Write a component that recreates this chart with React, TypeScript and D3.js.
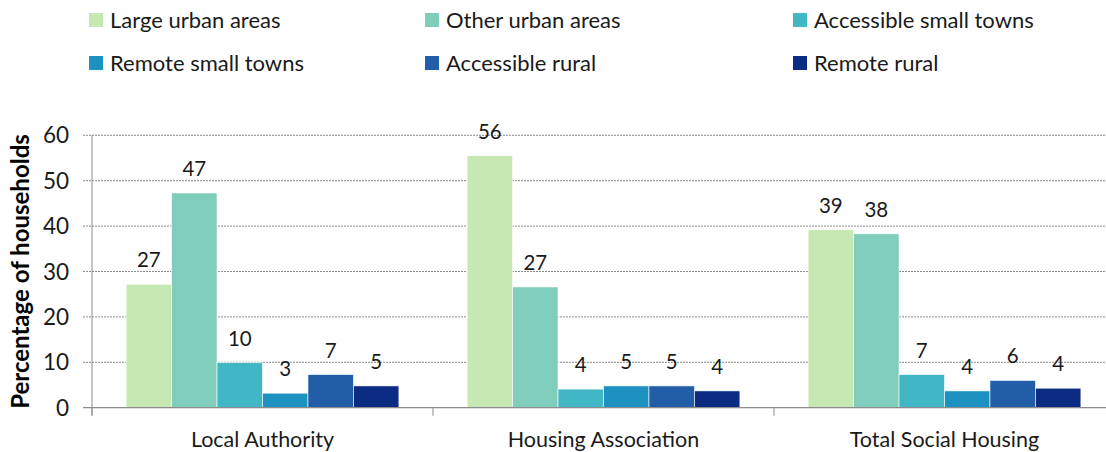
import React from "react";
import * as d3 from "d3";

const categories = ["Local Authority", "Housing Association", "Total Social Housing"];
const seriesNames = [
  "Large urban areas",
  "Other urban areas",
  "Accessible small towns",
  "Remote small towns",
  "Accessible rural",
  "Remote rural",
];
const largeUrban = [27.2, 55.5, 39.2];
const otherUrban = [47.3, 26.6, 38.3];
const accessibleTowns = [9.9, 4.1, 7.3];
const remoteTowns = [3.2, 4.8, 3.7];
const accessibleRural = [7.3, 4.8, 6.0];
const remoteRural = [4.8, 3.7, 4.3];
const seriesValues = [largeUrban, otherUrban, accessibleTowns, remoteTowns, accessibleRural, remoteRural];
const colors = ["#c6e9b4", "#80cdbb", "#41b6c4", "#1d91c0", "#225ea8", "#0c2c84"];
const yTicks = [0, 10, 20, 30, 40, 50, 60];

const W = 1106;
const H = 452;
const FONT = "Lato, 'Open Sans', sans-serif";

export default function App() {
  const left = 92;
  const right = 1115;
  const top = 135.3;
  const bottom = 407.7;

  const x0 = d3.scaleBand<string>().domain(categories).range([left, right]).paddingInner(0).paddingOuter(0);
  const x1 = d3
    .scaleBand<number>()
    .domain(d3.range(seriesNames.length))
    .range([0, x0.bandwidth()])
    .paddingOuter(0.75)
    .paddingInner(0);
  const y = d3.scaleLinear().domain([0, 60]).range([bottom, top]);

  const legendCols = [89, 425, 793];
  const legendRows = [20, 63];

  return (
    <svg
      width={W}
      height={H}
      style={{ position: "absolute", left: 0, top: 0, background: "#fff" }}
      fontFamily={FONT}
    >
      {/* gridlines */}
      {yTicks.map((t) =>
        t === 0 ? null : (
          <line
            key={"g" + t}
            x1={83}
            x2={right}
            y1={y(t)}
            y2={y(t)}
            stroke="#8c8c8c"
            strokeWidth={1}
            strokeDasharray="2,1"
          />
        )
      )}
      {/* y axis */}
      <line x1={left} x2={left} y1={top} y2={bottom + 8} stroke="#8c8c8c" strokeWidth={1} />
      {/* bars */}
      {seriesValues.map((vals, si) =>
        categories.map((c, ci) => (
          <rect
            key={`b${si}-${ci}`}
            x={(x0(c) ?? 0) + (x1(si) ?? 0)}
            y={y(vals[ci])}
            width={x1.bandwidth()}
            height={y(0) - y(vals[ci])}
            fill={colors[si]}
            stroke="#ffffff"
            strokeWidth={0.6}
          />
        ))
      )}
      {/* x axis */}
      <line x1={83} x2={right} y1={bottom} y2={bottom} stroke="#8c8c8c" strokeWidth={1.2} />
      {categories.map((c, i) => (
        <line
          key={"ct" + i}
          x1={x0(c) ?? 0}
          x2={x0(c) ?? 0}
          y1={bottom}
          y2={bottom + 8}
          stroke="#8c8c8c"
          strokeWidth={1}
        />
      ))}
      {/* y tick labels */}
      {yTicks.map((t) => (
        <text key={"yl" + t} x={69} y={y(t) + 8} textAnchor="end" fontSize={22.5} fill="#1a1a1a">
          {t}
        </text>
      ))}
      {/* data labels */}
      {seriesValues.map((vals, si) =>
        categories.map((c, ci) => (
          <text
            key={`l${si}-${ci}`}
            x={(x0(c) ?? 0) + (x1(si) ?? 0) + x1.bandwidth() / 2}
            y={y(vals[ci]) - 17}
            textAnchor="middle"
            fontSize={20.5}
            fill="#1a1a1a"
          >
            {Math.round(vals[ci])}
          </text>
        ))
      )}
      {/* category labels */}
      {categories.map((c) => (
        <text
          key={"cl" + c}
          x={(x0(c) ?? 0) + x0.bandwidth() / 2}
          y={447}
          textAnchor="middle"
          fontSize={21.5}
          fill="#1a1a1a"
        >
          {c}
        </text>
      ))}
      {/* y axis title */}
      <text
        transform={`translate(29, ${(top + bottom) / 2}) rotate(-90)`}
        textAnchor="middle"
        fontSize={24}
        fontWeight="bold"
        fill="#000"
      >
        Percentage of households
      </text>
      {/* legend */}
      {seriesNames.map((n, i) => {
        const col = i % 3;
        const row = Math.floor(i / 3);
        const lx = legendCols[col];
        const ly = legendRows[row];
        return (
          <g key={"lg" + i}>
            <rect x={lx} y={ly - 7} width={14} height={14} fill={colors[i]} />
            <text x={lx + 21} y={ly + 8} fontSize={22} fill="#1a1a1a">
              {n}
            </text>
          </g>
        );
      })}
    </svg>
  );
}
